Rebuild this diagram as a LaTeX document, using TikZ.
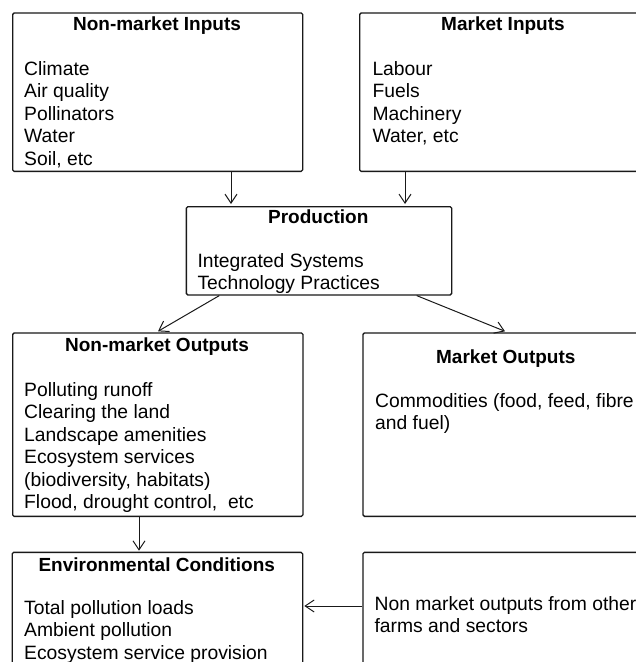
\documentclass[tikz,border=0pt]{standalone}
\usepackage{fontspec}
\setmainfont{Liberation Sans}
\usetikzlibrary{arrows.meta}
\newcommand\boxlines[1]{\begin{tabular}[t]{@{}l@{}}#1\end{tabular}}
\begin{document}
\begin{tikzpicture}[x=1pt,y=-1pt,
  box/.style={draw=black!90, line width=1.3pt, rounded corners=1.5pt, anchor=north west, inner sep=0pt},
  ttl/.style={font=\fontsize{19}{22.5}\selectfont\bfseries, anchor=base, inner sep=0pt},
  body/.style={font=\fontsize{19.3}{22.5}\selectfont, anchor=base west, inner sep=0pt},
  arr/.style={draw=black!90, line width=1pt, -{Straight Barb[length=9pt,width=12pt]}}]
\useasboundingbox (0,0) rectangle (636,662);
\clip (0,0) rectangle (636,662);
% boxes
\node[box, minimum width=290pt, minimum height=158.4pt] (nmi) at (12,12.3) {};
\node[box, minimum width=288pt, minimum height=158.4pt] (mi) at (359,12.3) {};
\node[box, minimum width=265.3pt, minimum height=88.3pt] (prod) at (185.7,206) {};
\node[box, minimum width=290.3pt, minimum height=183.4pt] (nmo) at (12,332.3) {};
\node[box, minimum width=287pt, minimum height=183.4pt] (mo) at (362.3,332.3) {};
\node[box, minimum width=290.5pt, minimum height=160pt] (env) at (11.5,551.7) {};
\node[box, minimum width=287pt, minimum height=160pt] (oth) at (362.3,551.7) {};
% titles
\node[ttl] (nmiT) at (157,30.7) {Non-market Inputs};
\node[ttl] (miT) at (503,30.7) {Market Inputs};
\node[ttl] (prodT) at (318.3,223.3) {Production};
\node[ttl] (nmoT) at (157,351.7) {Non-market Outputs};
\node[ttl] (moT) at (505.8,363.3) {Market Outputs};
\node[ttl] (envT) at (156.8,571.7) {Environmental Conditions};
% bodies
\node[body] (nmiB) at (24,75) {\boxlines{Climate\\Air quality\\Pollinators\\Water\\Soil, etc}};
\node[body] (miB) at (372.3,75) {\boxlines{Labour\\Fuels\\Machinery\\Water, etc}};
\node[body] (prodB) at (197.3,267.3) {\boxlines{Integrated Systems\\Technology Practices}};
\node[body] (nmoB) at (24,396) {\boxlines{Polluting runoff\\Clearing the land\\Landscape amenities\\Ecosystem services\\(biodiversity, habitats)\\Flood, drought control,\ \ etc}};
\node[body] (moB) at (375,407.3) {\boxlines{Commodities (food, feed, fibre\\and fuel)}};
\node[body] (envB) at (24,614.3) {\boxlines{Total pollution loads\\Ambient pollution\\Ecosystem service provision}};
\node[body] (othB) at (374.4,610) {\boxlines{Non market outputs from other\\farms and sectors}};
% connector anchors
\coordinate (xa) at (231,0);
\coordinate (xb) at (405,0);
\coordinate (xc) at (219.3,0);
\coordinate (xd) at (158,0);
\coordinate (xe) at (416.7,0);
\coordinate (xf) at (505,0);
\coordinate (xg) at (139,0);
\coordinate (ya) at (0,606);
% connectors
\draw[arr] (nmi.south -| xa) -- ([yshift=2pt]prod.north -| xa);
\draw[arr] (mi.south -| xb) -- ([yshift=2pt]prod.north -| xb);
\draw[arr] (prod.south -| xc) -- ([yshift=1pt]nmo.north -| xd);
\draw[arr] (prod.south -| xe) -- ([yshift=1pt]mo.north -| xf);
\draw[arr] (nmo.south -| xg) -- ([yshift=1pt]env.north -| xg);
\draw[arr] (oth.west |- ya) -- ([xshift=1pt]env.east |- ya);
\end{tikzpicture}
\end{document}
